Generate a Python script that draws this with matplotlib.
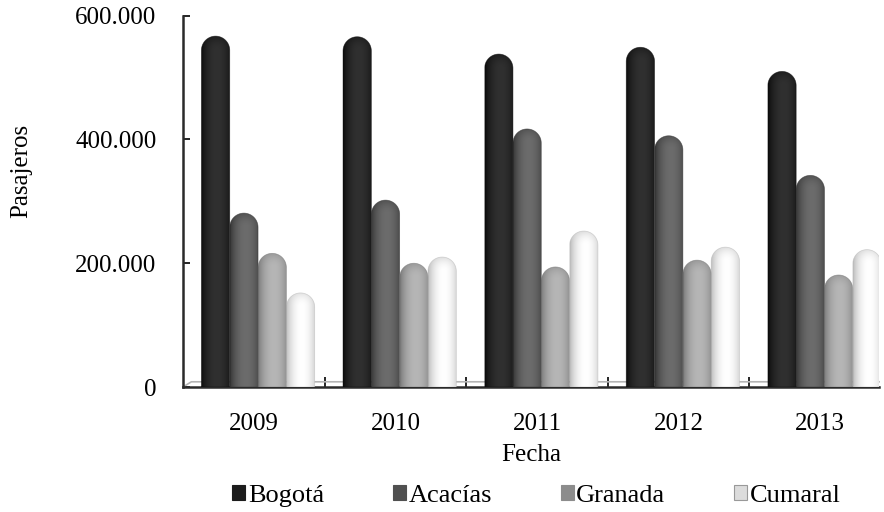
import numpy as np
import matplotlib
matplotlib.use("Agg")
import matplotlib.pyplot as plt
from matplotlib.patches import Rectangle, PathPatch
from matplotlib.path import Path
from matplotlib.colors import LinearSegmentedColormap
from matplotlib.ticker import FuncFormatter

plt.rcParams['font.family'] = ['Liberation Serif', 'DejaVu Serif']

anios = ['2009', '2010', '2011', '2012', '2013']
series = ['Bogotá', 'Acacías', 'Granada', 'Cumaral']
bogota = [567000, 566000, 538000, 549000, 510000]
acacias = [281000, 302000, 417000, 406000, 342000]
granada = [216000, 200000, 194000, 205000, 181000]
cumaral = [152000, 210000, 252000, 226000, 222000]
valores = [bogota, acacias, granada, cumaral]

# (borde, brillo) de cada cilindro
tonos = [('#0a0a0a', '#303030'), ('#333333', '#6c6c6c'),
         ('#767676', '#b6b6b6'), ('#b8b8b8', '#ffffff')]
colores_leyenda = ['#1c1c1c', '#505050', '#8c8c8c', '#dcdcdc']

fig = plt.figure(figsize=(8.84, 5.12), dpi=100)
ax = fig.add_axes([183/884, 1-387/512, (879-183)/884, (387-15.7)/512])
ymax = 600000
xmax = 4.415
ax.set_xlim(-0.5, xmax)
ax.set_ylim(0, ymax)

ancho = 0.2
x = np.arange(len(anios))
# radio del domo en unidades de y
px_x = (879-183) / (xmax + 0.5)
px_y = (387-15.7) / ymax
r = (ancho * px_x / 2) / px_y

nx, ny = 60, 400
u = np.linspace(-1, 1, nx)
perfil = np.cos(np.pi / 2 * np.clip((u - 0.1) / 1.1, -1, 1)) ** 0.7

for i, vals in enumerate(valores):
    cmap = LinearSegmentedColormap.from_list('c%d' % i, [tonos[i][0], tonos[i][1]])
    pos = x + (i - 1.5) * ancho + 0.03
    barras = ax.bar(pos, vals, width=ancho, facecolor='none', edgecolor='none', zorder=3)
    for b in barras:
        x0 = b.get_x()
        w = b.get_width()
        v = b.get_height()
        base = v - r
        th = np.linspace(0, np.pi, 40)
        verts = [(x0, 0), (x0 + w, 0), (x0 + w, base)]
        verts += list(zip(x0 + w / 2 + w / 2 * np.cos(th), base + r * np.sin(th)))
        verts += [(x0, base), (x0, 0)]
        codes = [Path.MOVETO] + [Path.LINETO] * (len(verts) - 2) + [Path.CLOSEPOLY]
        forma = PathPatch(Path(verts, codes), facecolor='none', edgecolor='none')
        ax.add_patch(forma)
        yy = np.linspace(v, 0, ny)
        z = np.clip((yy - base) / r, 0, 1)
        img = perfil[None, :] * (1 - 0.45 * z[:, None] ** 2)
        im = ax.imshow(img, extent=[x0, x0 + w, 0, v], aspect='auto', cmap=cmap,
                       vmin=0, vmax=1, zorder=4, interpolation='bilinear')
        im.set_clip_path(forma)
        borde = PathPatch(Path(verts, codes), facecolor='none',
                          edgecolor=tonos[i][0], lw=0.5, alpha=0.6, zorder=5)
        ax.add_patch(borde)

ax.set_xlim(-0.5, xmax)
ax.set_ylim(0, ymax)

# piso
ax.plot([0, 0.012, 1], [0, 0.014, 0.014], transform=ax.transAxes,
        color='#b4b4b4', lw=1.2, zorder=2, clip_on=False)

for s in ['top', 'right']:
    ax.spines[s].set_visible(False)
for s in ['left', 'bottom']:
    ax.spines[s].set_linewidth(1.8)
    ax.spines[s].set_color('#2a2a2a')

ax.set_yticks([0, 200000, 400000, 600000])
ax.yaxis.set_major_formatter(FuncFormatter(lambda v, p: '{:,.0f}'.format(v).replace(',', '.')))
ax.tick_params(axis='y', direction='in', length=5, width=1.2, labelsize=18, pad=19)
ax.set_xticks(x)
ax.set_xticklabels(anios)
ax.tick_params(axis='x', which='major', length=0, labelsize=18, pad=19)
ax.set_xticks(x[:-1] + 0.5, minor=True)
ax.tick_params(axis='x', which='minor', direction='in', length=7, width=1.2)

ax.set_ylabel('Pasajeros', fontsize=18)
ax.yaxis.set_label_coords((32 - 183) / 696, (387 - 171) / 371.3)
ax.set_xlabel('Fecha', fontsize=18, labelpad=6)

handles = [Rectangle((0, 0), 1, 1, facecolor=colores_leyenda[i],
                     edgecolor='#999999' if i == 3 else colores_leyenda[i], lw=0.8)
           for i in range(4)]
fig.legend(handles, series, loc='center left', bbox_to_anchor=(232/884, 1-496/512), ncol=4,
           frameon=False, fontsize=19, handlelength=0.5, handleheight=0.5,
           handletextpad=0.1, columnspacing=2.6, borderpad=0, borderaxespad=0)

fig.savefig('out.png', dpi=100)
